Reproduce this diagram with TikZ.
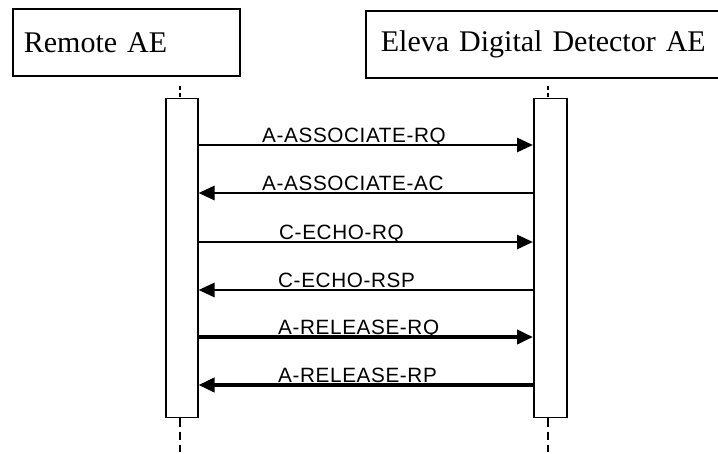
\documentclass[tikz,border=0pt]{standalone}
\usepackage{fontspec}
\setmainfont{Liberation Serif}
\newfontfamily\lsans[LetterSpace=3]{Liberation Sans}
\usetikzlibrary{arrows.meta}
\begin{document}
\begin{tikzpicture}[x=1pt,y=-1pt,
  actor/.style={draw, line width=1.8pt, anchor=north west, minimum height=67pt, align=left, font=\fontsize{30}{34}\selectfont},
  bar/.style={draw, line width=1.5pt, anchor=north west, minimum width=32pt, minimum height=319pt, inner sep=0pt},
  msg/.style={line width=2.8pt, -{Triangle[length=16pt,width=14pt]}},
  msgb/.style={msg, line width=3.8pt},
  lbl/.style={anchor=base west, inner sep=0pt, font=\lsans\fontsize{20.7}{24}\selectfont},
  life/.style={line width=2.4pt, dash pattern=on 8pt off 5pt}]
\useasboundingbox (0,0) rectangle (718,454);
\begin{scope}
\clip (0,0) rectangle (718,454);
\node[actor, text width=205pt, inner xsep=11pt] (remote) at (12,8) {Remote AE};
\node[actor, text width=330pt, inner xsep=15pt] (eleva) at (365,10) {Eleva Digital Detector AE};
\end{scope}
\node[bar] (lbar) at (165,98) {};
\node[bar, minimum width=33pt] (rbar) at (533,98) {};
\coordinate (ltop) at (180,86);
\coordinate (rtop) at (548,86);
\coordinate (lbot) at (180,452);
\coordinate (rbot) at (548,452);
\draw[line width=2.2pt, dash pattern=on 4pt off 3pt] (ltop) -- (ltop |- lbar.north);
\draw[line width=2.2pt, dash pattern=on 4pt off 3pt] (rtop) -- (rtop |- rbar.north);
\draw[life] (lbot |- lbar.south) -- (lbot);
\draw[life] (rbot |- rbar.south) -- (rbot);
\coordinate (m1) at (0,145);
\coordinate (m2) at (0,193);
\coordinate (m3) at (0,242);
\coordinate (m4) at (0,290);
\coordinate (m5) at (0,337);
\coordinate (m6) at (0,385);
\draw[msg] (lbar.east |- m1) -- (rbar.west |- m1);
\draw[msg] (rbar.west |- m2) -- (lbar.east |- m2);
\draw[msg] (lbar.east |- m3) -- (rbar.west |- m3);
\draw[msg] (rbar.west |- m4) -- (lbar.east |- m4);
\draw[msgb] (lbar.east |- m5) -- (rbar.west |- m5);
\draw[msgb] (rbar.west |- m6) -- (lbar.east |- m6);
\node[lbl] (l1) at (262,143) {A-ASSOCIATE-RQ};
\node[lbl] (l2) at (262,191) {A-ASSOCIATE-AC};
\node[lbl] (l3) at (279,240) {C-ECHO-RQ};
\node[lbl] (l4) at (278,288) {C-ECHO-RSP};
\node[lbl] (l5) at (278,335) {A-RELEASE-RQ};
\node[lbl] (l6) at (278,383) {A-RELEASE-RP};
\end{tikzpicture}
\end{document}
